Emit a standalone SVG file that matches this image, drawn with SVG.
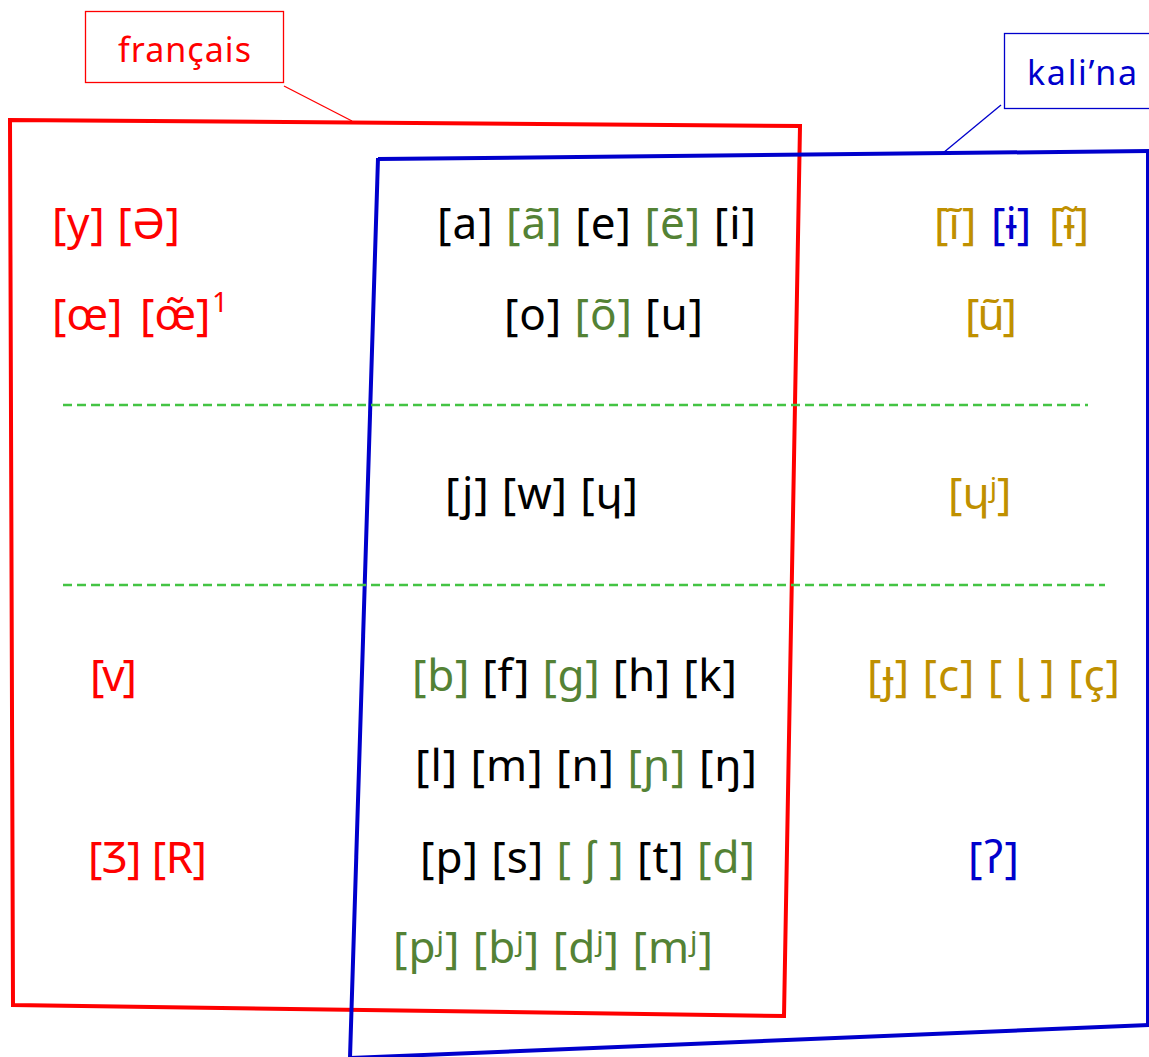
<svg xmlns="http://www.w3.org/2000/svg" width="1149" height="1057" viewBox="0 0 1149 1057">
  <style>
    text { font-family: "Noto Sans", "DejaVu Sans", sans-serif; }
    .ph { font-size: 44px; }
    .lbl { font-size: 34px; }
    .k { fill: #000000; }
    .g { fill: #548235; }
    .o { fill: #BF9000; }
    .r { fill: #FF0000; }
    .b { fill: #0000CC; }
    .sep { stroke: #44C444; stroke-width: 2.5; stroke-dasharray: 9 5; fill: none; }
  </style>
  <rect width="1149" height="1057" fill="#ffffff"/>

  <!-- set outlines and their labels -->
  <g id="set-francais">
    <polygon points="10,120 800,126 784,1016 13,1005" fill="none" stroke="#FF0000" stroke-width="4"/>
    <rect x="85.5" y="11.5" width="198" height="71" fill="#ffffff" stroke="#FF0000" stroke-width="1.3"/>
    <text class="lbl r" x="118" y="62" textLength="133">français</text>
  </g>
  <g id="set-kalina">
    <polyline points="378,159 1149,151" fill="none" stroke="#0000CC" stroke-width="4"/>
    <polyline points="1147.5,151 1147.5,1025" fill="none" stroke="#0000CC" stroke-width="3"/>
    <polyline points="1149,1025 350,1058" fill="none" stroke="#0000CC" stroke-width="4"/>
    <polyline points="378,158 350,1058" fill="none" stroke="#0000CC" stroke-width="4"/>
    <rect x="1004.5" y="33.5" width="160" height="75" fill="#ffffff" stroke="#0000CC" stroke-width="1.3"/>
    <text class="lbl b" x="1027" y="85" textLength="110">kali’na</text>
  </g>

  <!-- leader lines and separators -->
  <g id="connectors">
    <line x1="284" y1="86" x2="352" y2="121" stroke="#FF0000" stroke-width="1.3"/>
    <line x1="1001" y1="105" x2="943" y2="153" stroke="#0000CC" stroke-width="1.3"/>
    <line class="sep" x1="63" y1="405" x2="1088" y2="405"/>
    <line class="sep" x1="63" y1="585" x2="1105" y2="585"/>
  </g>

  <!-- vowels -->
  <g id="vowels-fr">
    <text class="ph r" x="52" y="239" textLength="128">[y] [Ə]</text>
    <text class="ph r" y="330"><tspan x="52">[œ]</tspan><tspan x="140">[œ̃]</tspan><tspan x="212" font-size="28" dy="-18">1</tspan></text>
  </g>
  <g id="vowels-shared">
    <text class="ph" x="437" y="239" textLength="319"><tspan class="k">[a] </tspan><tspan class="g">[ã]</tspan><tspan class="k"> [e] </tspan><tspan class="g">[ẽ]</tspan><tspan class="k"> [i]</tspan></text>
    <text class="ph" x="504" y="330" textLength="199"><tspan class="k">[o] </tspan><tspan class="g">[õ]</tspan><tspan class="k"> [u]</tspan></text>
  </g>
  <g id="vowels-kalina">
    <text class="ph" y="239"><tspan class="o" x="934">[ĩ]</tspan><tspan class="b" x="991">[ɨ]</tspan><tspan class="o" x="1049">[ɨ̃]</tspan></text>
    <text class="ph o" x="965" y="330" textLength="52">[ũ]</text>
  </g>

  <!-- glides -->
  <g id="glides-shared">
    <text class="ph k" x="445" y="509" textLength="193">[j] [w] [ɥ]</text>
  </g>
  <g id="glides-kalina">
    <text class="ph o" x="948" y="509">[ɥʲ]</text>
  </g>

  <!-- consonants -->
  <g id="consonants-fr">
    <text class="ph r" x="90" y="691" textLength="47">[v]</text>
    <text class="ph r" x="88" y="873" textLength="119">[Ʒ] [R]</text>
  </g>
  <g id="consonants-shared">
    <text class="ph" x="412" y="691" textLength="325"><tspan class="g">[b]</tspan><tspan class="k"> [f] </tspan><tspan class="g">[g]</tspan><tspan class="k"> [h] [k]</tspan></text>
    <text class="ph" x="415" y="781" textLength="342"><tspan class="k">[l] [m] [n] </tspan><tspan class="g">[ɲ]</tspan><tspan class="k"> [ŋ]</tspan></text>
    <text class="ph" x="420" y="873" textLength="335"><tspan class="k">[p] [s] </tspan><tspan class="g">[ ʃ ]</tspan><tspan class="k"> [t] </tspan><tspan class="g">[d]</tspan></text>
    <text class="ph g" x="393" y="963" textLength="320">[pʲ] [bʲ] [dʲ] [mʲ]</text>
  </g>
  <g id="consonants-kalina">
    <text class="ph o" x="867" y="691" textLength="253">[ɟ] [c] [ ɭ ] [ç]</text>
    <text class="ph b" x="968" y="873" textLength="51">[ʔ]</text>
  </g>
</svg>
